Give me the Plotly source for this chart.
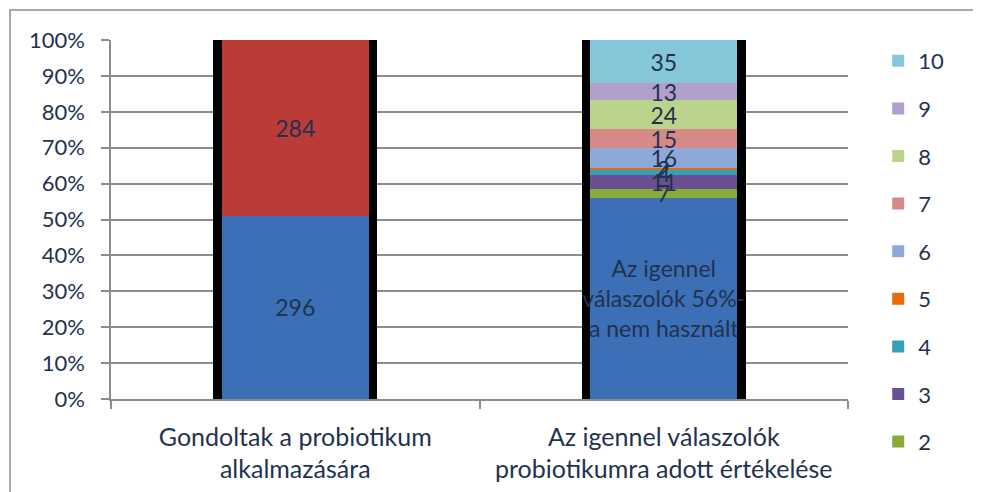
import plotly.graph_objects as go

# categories (x axis)
categories = ["Gondoltak a probiotikum<br>alkalmazására",
              "Az igennel válaszolók<br>probiotikumra adott értékelése"]

# first bar: igen / nem, second bar bottom: igennel válaszolók who did not use it
base_values = [296, 162]
base_text = ["296", "Az igennel<br>válaszolók 56%-<br>a nem használt"]
no_values = [284, None]
no_text = ["284", ""]

# ratings given by the "igen" answers (second bar only)
ratings = ["2", "3", "4", "5", "6", "7", "8", "9", "10"]
rating_counts = [7, 11, 4, 2, 16, 15, 24, 13, 35]
rating_colors = ["#8AAA3A", "#6B4F93", "#35A0B8", "#E46C0A", "#8EA9D8",
                 "#D58A88", "#BCD38C", "#B1A0CC", "#86C6D9"]

y_ticks = [0, 10, 20, 30, 40, 50, 60, 70, 80, 90, 100]
y_labels = ["0%", "10%", "20%", "30%", "40%", "50%",
            "60%", "70%", "80%", "90%", "100%"]

TEXT = "#1F3350"
GRID = "#8C8C8C"
FONT = "Lato"

# every series of the stack: (name, values, text, colour, in legend)
series = [("base", base_values, base_text, "#3D6FB6", False),
          ("nem", no_values, no_text, "#BB3B37", False)]
for name, cnt, col in zip(ratings, rating_counts, rating_colors):
    series.append((name, [None, cnt], ["", str(cnt)], col, True))

fig = go.Figure()

## black shadow behind the bars (Excel effect)
totals = [base_values[0] + no_values[0],
          base_values[1] + sum(rating_counts)]
fig.add_trace(go.Bar(x=categories, y=totals, width=0.445,
                     marker=dict(color="black", line=dict(width=0)),
                     showlegend=False, hoverinfo="skip",
                     xaxis="x", yaxis="y"))

## coloured segments
for i, (name, vals, txt, col, leg) in enumerate(series):
    fig.add_trace(go.Bar(x=categories, y=vals, width=0.4, name=name,
                         legendgroup=name, legendrank=100 - i,
                         showlegend=leg,
                         marker=dict(color=col, line=dict(width=0)),
                         xaxis="x2", yaxis="y"))

## labels on a layer above all segments
for name, vals, txt, col, leg in series:
    fig.add_trace(go.Bar(x=categories, y=vals, width=0.4,
                         text=txt, textposition="inside",
                         insidetextanchor="middle", textangle=0,
                         constraintext="none",
                         textfont=dict(family=FONT, size=23, color=TEXT),
                         marker=dict(color="rgba(0,0,0,0)", line=dict(width=0)),
                         showlegend=False, hoverinfo="skip",
                         xaxis="x3", yaxis="y"))

fig.update_layout(
    width=981, height=492,
    margin=dict(l=103, r=141, t=32, b=101),
    paper_bgcolor="white", plot_bgcolor="white",
    barmode="stack", barnorm="percent",
    font=dict(family=FONT, size=22, color=TEXT),
    xaxis=dict(type="category", categoryorder="array", categoryarray=categories,
               range=[-0.5, 1.5], showgrid=False, showline=True,
               linecolor=GRID, linewidth=1.5, ticks="outside",
               tickson="boundaries", ticklen=8, tickcolor=GRID, tickwidth=1.5,
               ticklabelstandoff=15,
               tickfont=dict(size=25, color=TEXT)),
    xaxis2=dict(type="category", categoryorder="array", categoryarray=categories,
                range=[-0.5, 1.5], overlaying="x", visible=False),
    xaxis3=dict(type="category", categoryorder="array", categoryarray=categories,
                range=[-0.5, 1.5], overlaying="x", visible=False),
    yaxis=dict(range=[0, 100], tickmode="array", tickvals=y_ticks,
               ticktext=y_labels, showgrid=True, gridcolor=GRID, gridwidth=1.5,
               showline=True, linecolor=GRID, linewidth=1.5,
               ticks="outside", ticklen=8, tickcolor=GRID, tickwidth=1.5,
               ticklabelstandoff=12, zeroline=False,
               tickfont=dict(size=22, color=TEXT)),
    legend=dict(x=1.041, xanchor="left", y=1.0, yanchor="top",
                traceorder="grouped", tracegroupgap=16, maxheight=470,
                itemwidth=30, font=dict(size=22, color=TEXT),
                bgcolor="rgba(0,0,0,0)"),
    shapes=[dict(type="rect", xref="paper", yref="paper",
                 x0=-0.137, x1=1.2, y0=-0.3, y1=1.0836,
                 line=dict(color=GRID, width=1.5), layer="below")],
)

fig.write_html("out.html")
